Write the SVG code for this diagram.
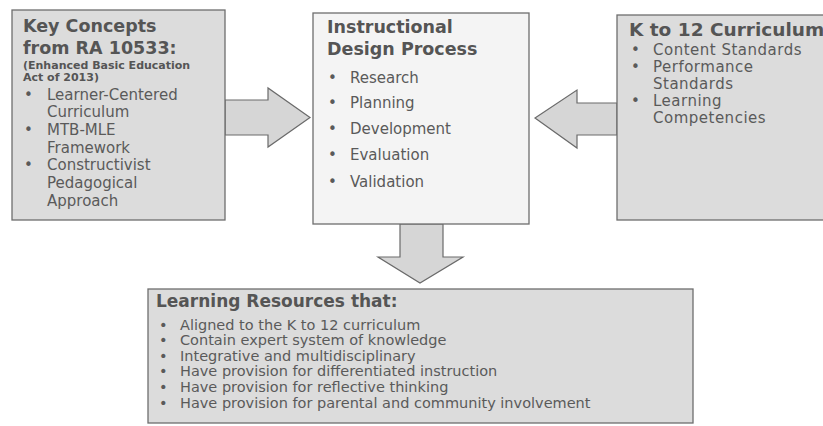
<svg xmlns="http://www.w3.org/2000/svg" width="823" height="426" viewBox="0 0 823 426">
<style>
.box{fill:#dcdcdc;stroke:#6e6e6e;stroke-width:1.3}
.boxw{fill:#f4f4f4;stroke:#6e6e6e;stroke-width:1.3}
.arrow{fill:#d6d6d6;stroke:#6a6a6a;stroke-width:1.2;stroke-linejoin:miter}
text{font-family:"DejaVu Sans","Liberation Sans",sans-serif;fill:#5a5a5a}
.h{font-weight:bold;font-size:17.5px;fill:#555}
.hs{font-weight:bold;font-size:11px;fill:#555}
.i{font-size:15px}
.ir{font-size:15px;letter-spacing:0.5px}
.ib{font-size:14.5px}
</style>
<rect width="823" height="426" fill="#ffffff"/>
<g id="connectors">
<polygon class="arrow" points="225,100 268,100 268,88 310,117.5 268,147 268,135 225,135"/>
<polygon class="arrow" points="617,103 577,103 577,90 535,118 577,148 577,135 617,135"/>
<polygon class="arrow" points="400,224 443,224 443,257 463,257 420,283 378,257 400,257"/>
</g>
<g id="key-concepts">
<rect class="box" x="12" y="10" width="213" height="210"/>
<text class="h" x="23" y="32">Key Concepts</text>
<text class="h" x="23" y="54">from RA 10533:</text>
<text class="hs" x="23" y="69">(Enhanced Basic Education</text>
<text class="hs" x="23" y="81">Act of 2013)</text>
<text class="i" x="24" y="100">•</text><text class="i" x="47" y="100">Learner-Centered</text>
<text class="i" x="47" y="117">Curriculum</text>
<text class="i" x="24" y="135">•</text><text class="i" x="47" y="135">MTB-MLE</text>
<text class="i" x="47" y="153">Framework</text>
<text class="i" x="24" y="170">•</text><text class="i" x="47" y="170">Constructivist</text>
<text class="i" x="47" y="188">Pedagogical</text>
<text class="i" x="47" y="206">Approach</text>
</g>
<g id="instructional-design">
<rect class="boxw" x="313" y="13" width="216" height="211"/>
<text class="h" x="327" y="33">Instructional</text>
<text class="h" x="327" y="55">Design Process</text>
<text class="i" x="328" y="83">•</text><text class="i" x="350" y="83">Research</text>
<text class="i" x="328" y="108">•</text><text class="i" x="350" y="108">Planning</text>
<text class="i" x="328" y="134">•</text><text class="i" x="350" y="134">Development</text>
<text class="i" x="328" y="160">•</text><text class="i" x="350" y="160">Evaluation</text>
<text class="i" x="328" y="187">•</text><text class="i" x="350" y="187">Validation</text>
</g>
<g id="k12-curriculum">
<rect class="box" x="617" y="15" width="215" height="205"/>
<text class="h" x="629" y="36" style="font-size:18.5px">K to 12 Curriculum</text>
<text class="ir" x="631" y="55">•</text><text class="ir" x="653" y="55">Content Standards</text>
<text class="ir" x="631" y="72">•</text><text class="ir" x="653" y="72">Performance</text>
<text class="ir" x="653" y="89">Standards</text>
<text class="ir" x="631" y="106">•</text><text class="ir" x="653" y="106">Learning</text>
<text class="ir" x="653" y="123">Competencies</text>
</g>
<g id="learning-resources">
<rect class="box" x="148" y="289" width="545" height="134"/>
<text class="h" x="156" y="307" style="font-size:17px">Learning Resources that:</text>
<text class="ib" x="159" y="330">•</text><text class="ib" x="180" y="330">Aligned to the K to 12 curriculum</text>
<text class="ib" x="159" y="345">•</text><text class="ib" x="180" y="345">Contain expert system of knowledge</text>
<text class="ib" x="159" y="361">•</text><text class="ib" x="180" y="361">Integrative and multidisciplinary</text>
<text class="ib" x="159" y="376">•</text><text class="ib" x="180" y="376">Have provision for differentiated instruction</text>
<text class="ib" x="159" y="392">•</text><text class="ib" x="180" y="392">Have provision for reflective thinking</text>
<text class="ib" x="159" y="408">•</text><text class="ib" x="180" y="408">Have provision for parental and community involvement</text>
</g>
</svg>
